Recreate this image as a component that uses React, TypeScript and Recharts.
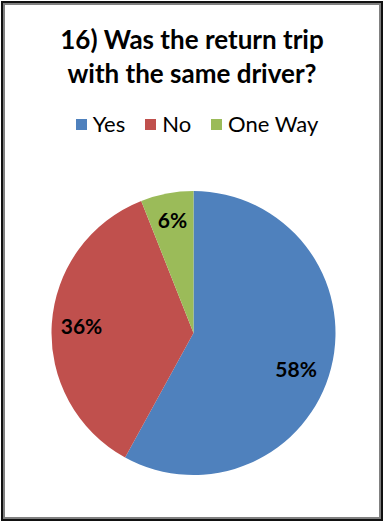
import React from 'react';
import { PieChart, Pie, Cell } from 'recharts';

const categories = ['Yes', 'No', 'One Way'];
const values = [58, 36, 6];
const colors = ['#4F81BD', '#C0504D', '#9BBB59'];
const titleLines = ['16) Was the return trip', 'with the same driver?'];

const data = categories.map((name, i) => ({ name, value: values[i] }));

const FONT = 'Lato, "Open Sans", sans-serif';
const RADIAN = Math.PI / 180;
// small "best fit" nudges of the data labels (styling only)
const labelNudge = [
  [-6, 8],
  [0, 0],
  [0, -3],
];

const renderLabel = (props: any) => {
  const { cx, cy, midAngle, outerRadius, value, index } = props;
  const r = outerRadius * 0.79;
  const n = labelNudge[index] || [0, 0];
  const x = cx + r * Math.cos(-midAngle * RADIAN) + n[0];
  const y = cy + r * Math.sin(-midAngle * RADIAN) + n[1];
  return (
    <text x={x} y={y} textAnchor="middle" dominantBaseline="central" fill="#000" fontFamily={FONT} fontWeight={700} fontSize={21}>
      {`${value}%`}
    </text>
  );
};

export default function App() {
  return (
    <div style={{ position: 'absolute', left: 0, top: 0, width: 384, height: 522, background: '#fff', fontFamily: FONT }}>
      <div style={{ position: 'absolute', left: 1, top: 1, width: 382, height: 520, boxSizing: 'border-box', border: '2px solid #111', boxShadow: 'inset 0 0 0 2px #808080' }} />
      <div style={{ position: 'absolute', left: 0, top: 22, width: 384, textAlign: 'center', fontWeight: 700, fontSize: 26, lineHeight: '34px', color: '#000' }}>
        {titleLines.map((t) => (
          <div key={t}>{t}</div>
        ))}
      </div>
      <div style={{ position: 'absolute', left: 5, top: 111, width: 384, display: 'flex', justifyContent: 'center', fontSize: 22, lineHeight: '26px', color: '#000' }}>
        {categories.map((c, i) => (
          <div key={c} style={{ display: 'flex', alignItems: 'center', marginRight: i < categories.length - 1 ? 20 : 0 }}>
            <span style={{ display: 'inline-block', width: 11, height: 11, background: colors[i], marginRight: 6 }} />
            <span>{c}</span>
          </div>
        ))}
      </div>
      <div style={{ position: 'absolute', left: 0, top: 0 }}>
        <PieChart width={384} height={522} margin={{ top: 0, right: 0, bottom: 0, left: 0 }}>
          <Pie
            data={data}
            dataKey="value"
            nameKey="name"
            cx={193.5}
            cy={333}
            outerRadius={142}
            startAngle={90}
            endAngle={-270}
            label={renderLabel}
            labelLine={false}
            stroke="none"
            isAnimationActive={false}
          >
            {data.map((d, i) => (
              <Cell key={d.name} fill={colors[i]} />
            ))}
          </Pie>
        </PieChart>
      </div>
    </div>
  );
}
